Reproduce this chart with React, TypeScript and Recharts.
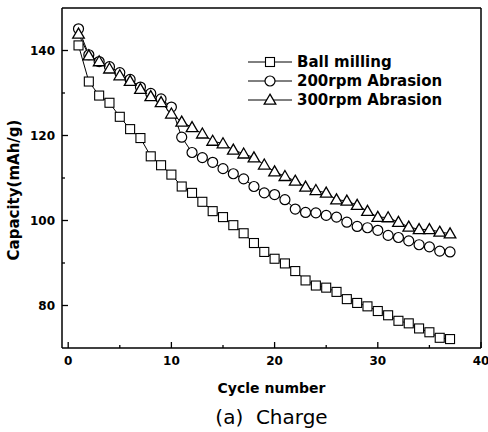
import React from 'react';
import { LineChart, Line, XAxis, YAxis, ReferenceLine, Legend } from 'recharts';

const CYCLES = [1,2,3,4,5,6,7,8,9,10,11,12,13,14,15,16,17,18,19,20,21,22,23,24,25,26,27,28,29,30,31,32,33,34,35,36,37];
const BALL_MILLING = [141.2,132.7,129.4,127.7,124.4,121.5,119.4,115.1,113.0,110.8,108.0,106.5,104.4,102.2,100.8,98.9,97.0,94.7,92.6,91.0,89.9,88.1,85.9,84.7,84.2,83.2,81.5,80.6,79.8,78.7,77.7,76.4,75.8,74.6,73.7,72.4,72.1];
const RPM200 = [145.1,139.0,137.4,136.2,134.8,133.2,131.4,129.9,128.6,126.7,119.6,116.0,114.8,113.7,112.2,111.0,109.8,108.0,106.5,106.1,104.9,102.7,101.9,101.8,101.2,100.8,99.6,98.6,98.3,97.7,96.5,96.0,95.2,94.3,93.8,92.8,92.6];
const RPM300 = [143.9,138.8,137.4,135.7,134.1,132.8,130.9,129.2,127.8,125.1,123.2,121.9,120.4,118.7,118.1,116.6,115.7,114.8,113.1,111.5,110.4,109.3,107.9,107.1,106.5,104.9,104.6,103.6,102.2,100.8,100.7,99.6,98.5,97.9,97.9,97.3,96.9];

const SERIES_NAMES = ['Ball milling', '200rpm Abrasion', '300rpm Abrasion'];
const X_TICKS = [0,5,10,15,20,25,30,35,40];
const X_MAJOR = [0,10,20,30,40];
const Y_TICKS = [80,90,100,110,120,130,140];
const Y_MAJOR = [80,100,120,140];
const X_LABEL = 'Cycle number';
const Y_LABEL = 'Capacity(mAh/g)';
const CAPTION = '(a)  Charge';

const data = CYCLES.map((c, i) => ({
  cycle: c,
  ball: BALL_MILLING[i],
  r200: RPM200[i],
  r300: RPM300[i],
}));

const FONT = '"DejaVu Sans", Verdana, sans-serif';

const Square = ({ cx, cy }: any) => (
  <rect x={cx - 4.5} y={cy - 4.5} width={9} height={9} fill="#fff" stroke="#000" strokeWidth={1.1} />
);
const Circle = ({ cx, cy }: any) => (
  <circle cx={cx} cy={cy} r={5} fill="#fff" stroke="#000" strokeWidth={1.2} />
);
const Triangle = ({ cx, cy }: any) => (
  <polygon
    points={`${cx},${cy - 5.8} ${cx + 5.8},${cy + 4.2} ${cx - 5.8},${cy + 4.2}`}
    fill="#fff"
    stroke="#000"
    strokeWidth={1.3}
    strokeLinejoin="miter"
  />
);

const sqDot = (p: any) => <Square key={`sq-${p.index}`} cx={p.cx} cy={p.cy} />;
const ciDot = (p: any) => <Circle key={`ci-${p.index}`} cx={p.cx} cy={p.cy} />;
const trDot = (p: any) => <Triangle key={`tr-${p.index}`} cx={p.cx} cy={p.cy} />;

const XTick = (props: any) => {
  const { x, y, payload } = props;
  const v = payload.value;
  const major = X_MAJOR.includes(v);
  return (
    <g>
      <line x1={x} x2={x} y1={y - 8} y2={y - 8 - (major ? 6 : 3)} stroke="#000" strokeWidth={1.3} />
      {major && (
        <text x={x} y={y} dy="0.71em" textAnchor="middle" fontFamily={FONT} fontWeight="bold" fontSize={12} fill="#000">
          {v}
        </text>
      )}
    </g>
  );
};

const YTick = (props: any) => {
  const { x, y, payload } = props;
  const v = payload.value;
  const major = Y_MAJOR.includes(v);
  return (
    <g>
      <line x1={x + 7} x2={x + 7 + (major ? 6 : 3)} y1={y} y2={y} stroke="#000" strokeWidth={1.3} />
      {major && (
        <text x={x} y={y} dominantBaseline="central" textAnchor="end" fontFamily={FONT} fontWeight="bold" fontSize={12} fill="#000">
          {v}
        </text>
      )}
    </g>
  );
};

const XLabel = (props: any) => {
  const vb = props.viewBox || {};
  const cx = vb.x + vb.width / 2;
  return (
    <g>
      <text x={cx} y={vb.y + 40} dominantBaseline="central" textAnchor="middle" fontFamily={FONT} fontWeight="bold" fontSize={14} fill="#000">
        {X_LABEL}
      </text>
      <text x={cx} y={vb.y + 69} dominantBaseline="central" textAnchor="middle" fontFamily={FONT} fontSize={20} fill="#000" style={{ whiteSpace: 'pre' }}>
        {CAPTION}
      </text>
    </g>
  );
};

const YLabel = (props: any) => {
  const vb = props.viewBox || {};
  const x = vb.x + 14;
  const y = vb.y + vb.height / 2 + 12;
  return (
    <text x={x} y={y} transform={`rotate(-90, ${x}, ${y})`} dominantBaseline="central" textAnchor="middle" fontFamily={FONT} fontWeight="bold" fontSize={15} fill="#000">
      {Y_LABEL}
    </text>
  );
};

const legendMarkers = [
  <Square cx={22} cy={7} />,
  <Circle cx={22} cy={7} />,
  <Triangle cx={22} cy={7} />,
];

const LegendContent = () => (
  <div style={{ fontFamily: FONT }}>
    {SERIES_NAMES.map((name, i) => (
      <div key={name} style={{ display: 'flex', alignItems: 'center', height: 19 }}>
        <svg width={44} height={14} style={{ overflow: 'visible' }}>
          <line x1={0} x2={44} y1={7} y2={7} stroke="#000" strokeWidth={1} />
          {legendMarkers[i]}
        </svg>
        <span style={{ marginLeft: 5, fontSize: 15, fontWeight: 'bold', color: '#000', whiteSpace: 'nowrap' }}>{name}</span>
      </div>
    ))}
  </div>
);

export default function App() {
  return (
    <div style={{ position: 'absolute', left: 0, top: 0, width: 488, height: 432, background: '#fff' }}>
      <LineChart width={488} height={432} data={data} margin={{ top: 8, right: 7, left: 0, bottom: 39 }}>
        <XAxis
          dataKey="cycle"
          type="number"
          domain={[-0.6, 40]}
          allowDataOverflow
          ticks={X_TICKS}
          interval={0}
          tickSize={0}
          tickMargin={8}
          tick={<XTick />}
          tickLine={false}
          axisLine={{ stroke: '#000', strokeWidth: 1.5 }}
          height={45}
          label={<XLabel />}
        />
        <YAxis
          type="number"
          domain={[70, 150]}
          allowDataOverflow
          ticks={Y_TICKS}
          interval={0}
          tickSize={0}
          tickMargin={7}
          tick={<YTick />}
          tickLine={false}
          axisLine={{ stroke: '#000', strokeWidth: 1.5 }}
          width={62}
          label={<YLabel />}
        />
        <ReferenceLine y={150} stroke="#000" strokeWidth={1.5} />
        <ReferenceLine x={40} stroke="#000" strokeWidth={1.5} />
        <Legend
          layout="vertical"
          align="center"
          verticalAlign="middle"
          wrapperStyle={{ position: 'absolute', left: 248, top: 52, width: 'auto', height: 'auto' }}
          content={<LegendContent />}
        />
        <Line dataKey="ball" name={SERIES_NAMES[0]} stroke="#000" strokeWidth={1} dot={sqDot} isAnimationActive={false} />
        <Line dataKey="r200" name={SERIES_NAMES[1]} stroke="#000" strokeWidth={1} dot={ciDot} isAnimationActive={false} />
        <Line dataKey="r300" name={SERIES_NAMES[2]} stroke="#000" strokeWidth={1} dot={trDot} isAnimationActive={false} />
      </LineChart>
    </div>
  );
}
